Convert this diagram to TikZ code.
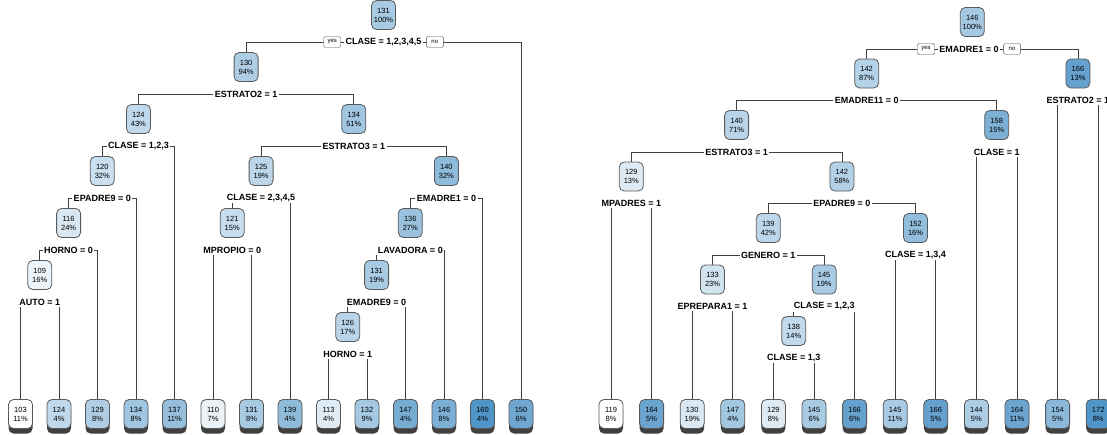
\documentclass[tikz,border=0pt]{standalone}
\usepackage{fontspec}
\setmainfont{Liberation Sans}
\usetikzlibrary{positioning,backgrounds,shadows}
\definecolor{treeblue}{RGB}{49,130,189}

\begin{document}
\begin{tikzpicture}[x=1pt,y=-1pt,
  every node/.style={inner sep=0pt},
  tnode/.style={draw=black!65, line width=0.8pt, rounded corners=5pt, minimum width=24pt,
    minimum height=29pt, align=center, font=\fontsize{7.5}{9}\selectfont},
  leaf/.style={tnode, drop shadow={shadow xshift=0pt, shadow yshift=-5pt, fill=black!75, opacity=1}},
  split/.style={fill=white, inner xsep=1.5pt, inner ysep=1.5pt, font=\fontsize{9}{10}\selectfont\bfseries},
  yn/.style={draw=black!70, fill=white, rounded corners=1.5pt, minimum width=17pt, minimum height=11pt,
    font=\fontsize{6}{6}\selectfont},
  edge/.style={draw=black!75, line width=0.8pt}]
\useasboundingbox (0,0) rectangle (1107,434);

% left tree
\node[tnode, fill=treeblue!42!white] (a131-100) at (383.5,15) {131\\100\%};
\node[split] (sa131-100) at (383.5,42) {CLASE = 1,2,3,4,5};
\node[yn, left=3pt of sa131-100] (ya) {yes};
\node[yn, right=3pt of sa131-100] (na) {no};
\node[tnode, fill=treeblue!40!white] (a130-94) at (246.1,67) {130\\94\%};
\node[split] (sa130-94) at (246.1,94) {ESTRATO2 = 1};
\node[tnode, fill=treeblue!31!white] (a124-43) at (138.4,119) {124\\43\%};
\node[split] (sa124-43) at (138.4,146) {CLASE = 1,2,3};
\node[tnode, fill=treeblue!46!white] (a134-51) at (353.8,119) {134\\51\%};
\node[split] (sa134-51) at (353.8,146) {ESTRATO3 = 1};
\node[tnode, fill=treeblue!25!white] (a120-32) at (102.3,171) {120\\32\%};
\node[split] (sa120-32) at (102.3,198) {EPADRE9 = 0};
\node[tnode, fill=treeblue!33!white] (a125-19) at (261.1,171) {125\\19\%};
\node[split] (sa125-19) at (261.1,198) {CLASE = 2,3,4,5};
\node[tnode, fill=treeblue!55!white] (a140-32) at (446.4,171) {140\\32\%};
\node[split] (sa140-32) at (446.4,198) {EMADRE1 = 0};
\node[tnode, fill=treeblue!19!white] (a116-24) at (68.6,223) {116\\24\%};
\node[split] (sa116-24) at (68.6,250) {HORNO = 0};
\node[tnode, fill=treeblue!27!white] (a121-15) at (232.25,223) {121\\15\%};
\node[split] (sa121-15) at (232.25,250) {MPROPIO = 0};
\node[tnode, fill=treeblue!49!white] (a136-27) at (410.3,223) {136\\27\%};
\node[split] (sa136-27) at (410.3,250) {LAVADORA = 0};
\node[tnode, fill=treeblue!9!white] (a109-16) at (39.75,275) {109\\16\%};
\node[split] (sa109-16) at (39.75,302) {AUTO = 1};
\node[tnode, fill=treeblue!42!white] (a131-19) at (376.6,275) {131\\19\%};
\node[split] (sa131-19) at (376.6,302) {EMADRE9 = 0};
\node[tnode, fill=treeblue!34!white] (a126-17) at (347.75,327) {126\\17\%};
\node[split] (sa126-17) at (347.75,354) {HORNO = 1};
% left leaves
\node[leaf, fill=treeblue!0!white] (a103-11) at (20.5,414) {103\\11\%};
\node[leaf, fill=treeblue!31!white] (a124-4) at (59,414) {124\\4\%};
\node[leaf, fill=treeblue!39!white] (a129-8) at (97.5,414) {129\\8\%};
\node[leaf, fill=treeblue!46!white] (a134-8) at (136,414) {134\\8\%};
\node[leaf, fill=treeblue!51!white] (a137-11) at (174.5,414) {137\\11\%};
\node[leaf, fill=treeblue!10!white] (a110-7) at (213,414) {110\\7\%};
\node[leaf, fill=treeblue!42!white] (a131-8) at (251.5,414) {131\\8\%};
\node[leaf, fill=treeblue!54!white] (a139-4) at (290,414) {139\\4\%};
\node[leaf, fill=treeblue!15!white] (a113-4) at (328.5,414) {113\\4\%};
\node[leaf, fill=treeblue!43!white] (a132-9) at (367,414) {132\\9\%};
\node[leaf, fill=treeblue!66!white] (a147-4) at (405.5,414) {147\\4\%};
\node[leaf, fill=treeblue!64!white] (a146-8) at (444,414) {146\\8\%};
\node[leaf, fill=treeblue!85!white] (a160-4) at (482.5,414) {160\\4\%};
\node[leaf, fill=treeblue!70!white] (a150-6) at (521,414) {150\\6\%};

% right tree
\node[tnode, fill=treeblue!43!white] (b146-100) at (972.3,22) {146\\100\%};
\node[split] (sb146-100) at (969,49) {EMADRE1 = 0};
\node[yn, left=3pt of sb146-100] (yb) {yes};
\node[yn, right=3pt of sb146-100] (nb) {no};
\node[tnode, fill=treeblue!37!white] (b142-87) at (866.65,73.5) {142\\87\%};
\node[split] (sb142-87) at (866.65,100.5) {EMADRE11 = 0};
\node[tnode, fill=treeblue!75!white] (b166-13) at (1077.9,73.5) {166\\13\%};
\node[split] (sb166-13) at (1077.9,100.5) {ESTRATO2 = 1};
\node[tnode, fill=treeblue!34!white] (b140-71) at (736.6,125) {140\\71\%};
\node[split] (sb140-71) at (736.6,152) {ESTRATO3 = 1};
\node[tnode, fill=treeblue!63!white] (b158-15) at (996.7,125) {158\\15\%};
\node[split] (sb158-15) at (996.7,152) {CLASE = 1};
\node[tnode, fill=treeblue!16!white] (b129-13) at (631.3,176.5) {129\\13\%};
\node[split] (sb129-13) at (631.3,203.5) {MPADRES = 1};
\node[tnode, fill=treeblue!37!white] (b142-58) at (841.9,176.5) {142\\58\%};
\node[split] (sb142-58) at (841.9,203.5) {EPADRE9 = 0};
\node[tnode, fill=treeblue!32!white] (b139-42) at (768.3,228) {139\\42\%};
\node[split] (sb139-42) at (768.3,255) {GENERO = 1};
\node[tnode, fill=treeblue!53!white] (b152-16) at (915.5,228) {152\\16\%};
\node[split] (sb152-16) at (915.5,255) {CLASE = 1,3,4};
\node[tnode, fill=treeblue!22!white] (b133-23) at (712.5,279.5) {133\\23\%};
\node[split] (sb133-23) at (712.5,306.5) {EPREPARA1 = 1};
\node[tnode, fill=treeblue!42!white] (b145-19) at (824.15,279.5) {145\\19\%};
\node[split] (sb145-19) at (824.15,306.5) {CLASE = 1,2,3};
\node[tnode, fill=treeblue!30!white] (b138-14) at (793.7,331) {138\\14\%};
\node[split] (sb138-14) at (793.7,358) {CLASE = 1,3};
% right leaves
\node[leaf, fill=treeblue!0!white] (b119-8) at (611,414) {119\\8\%};
\node[leaf, fill=treeblue!72!white] (b164-5) at (651.6,414) {164\\5\%};
\node[leaf, fill=treeblue!18!white] (b130-19) at (692.2,414) {130\\19\%};
\node[leaf, fill=treeblue!45!white] (b147-4) at (732.8,414) {147\\4\%};
\node[leaf, fill=treeblue!16!white] (b129-8) at (773.4,414) {129\\8\%};
\node[leaf, fill=treeblue!42!white] (b145-6) at (814,414) {145\\6\%};
\node[leaf, fill=treeblue!75!white] (b166-6) at (854.6,414) {166\\6\%};
\node[leaf, fill=treeblue!42!white] (b145-11) at (895.2,414) {145\\11\%};
\node[leaf, fill=treeblue!75!white] (b166-5) at (935.8,414) {166\\5\%};
\node[leaf, fill=treeblue!40!white] (b144-5) at (976.4,414) {144\\5\%};
\node[leaf, fill=treeblue!72!white] (b164-11) at (1017,414) {164\\11\%};
\node[leaf, fill=treeblue!56!white] (b154-5) at (1057.6,414) {154\\5\%};
\node[leaf, fill=treeblue!85!white] (b172-8) at (1098.2,414) {172\\8\%};

\begin{scope}[on background layer]
% left tree edges
\draw[edge] (sa131-100.center) -| (a130-94.north);
\draw[edge] (sa131-100.center) -| (a150-6.north);
\draw[edge] (sa130-94.center) -| (a124-43.north);
\draw[edge] (sa130-94.center) -| (a134-51.north);
\draw[edge] (sa124-43.center) -| (a120-32.north);
\draw[edge] (sa124-43.center) -| (a137-11.north);
\draw[edge] (sa120-32.center) -| (a116-24.north);
\draw[edge] (sa120-32.center) -| (a134-8.north);
\draw[edge] (sa116-24.center) -| (a109-16.north);
\draw[edge] (sa116-24.center) -| (a129-8.north);
\draw[edge] (sa109-16.center) -| (a103-11.north);
\draw[edge] (sa109-16.center) -| (a124-4.north);
\draw[edge] (sa134-51.center) -| (a125-19.north);
\draw[edge] (sa134-51.center) -| (a140-32.north);
\draw[edge] (sa125-19.center) -| (a121-15.north);
\draw[edge] (sa125-19.center) -| (a139-4.north);
\draw[edge] (sa121-15.center) -| (a110-7.north);
\draw[edge] (sa121-15.center) -| (a131-8.north);
\draw[edge] (sa140-32.center) -| (a136-27.north);
\draw[edge] (sa140-32.center) -| (a160-4.north);
\draw[edge] (sa136-27.center) -| (a131-19.north);
\draw[edge] (sa136-27.center) -| (a146-8.north);
\draw[edge] (sa131-19.center) -| (a126-17.north);
\draw[edge] (sa131-19.center) -| (a147-4.north);
\draw[edge] (sa126-17.center) -| (a113-4.north);
\draw[edge] (sa126-17.center) -| (a132-9.north);
% right tree edges
\draw[edge] (sb146-100.center) -| (b142-87.north);
\draw[edge] (sb146-100.center) -| (b166-13.north);
\draw[edge] (sb142-87.center) -| (b140-71.north);
\draw[edge] (sb142-87.center) -| (b158-15.north);
\draw[edge] (sb166-13.center) -| (b154-5.north);
\draw[edge] (sb166-13.center) -| (b172-8.north);
\draw[edge] (sb140-71.center) -| (b129-13.north);
\draw[edge] (sb140-71.center) -| (b142-58.north);
\draw[edge] (sb158-15.center) -| (b144-5.north);
\draw[edge] (sb158-15.center) -| (b164-11.north);
\draw[edge] (sb129-13.center) -| (b119-8.north);
\draw[edge] (sb129-13.center) -| (b164-5.north);
\draw[edge] (sb142-58.center) -| (b139-42.north);
\draw[edge] (sb142-58.center) -| (b152-16.north);
\draw[edge] (sb139-42.center) -| (b133-23.north);
\draw[edge] (sb139-42.center) -| (b145-19.north);
\draw[edge] (sb152-16.center) -| (b145-11.north);
\draw[edge] (sb152-16.center) -| (b166-5.north);
\draw[edge] (sb133-23.center) -| (b130-19.north);
\draw[edge] (sb133-23.center) -| (b147-4.north);
\draw[edge] (sb145-19.center) -| (b138-14.north);
\draw[edge] (sb145-19.center) -| (b166-6.north);
\draw[edge] (sb138-14.center) -| (b129-8.north);
\draw[edge] (sb138-14.center) -| (b145-6.north);
\end{scope}
\end{tikzpicture}
\end{document}
